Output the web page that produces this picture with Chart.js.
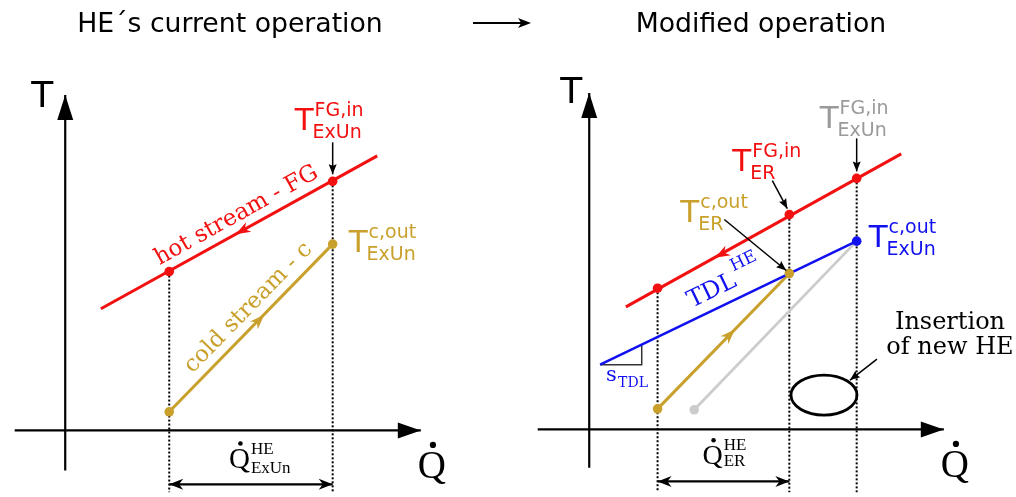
<!DOCTYPE html>
<html>
<head>
<meta charset="utf-8">
<script src="https://cdn.jsdelivr.net/npm/chart.js@4/dist/chart.umd.min.js"></script>
<style>
  html, body { margin: 0; padding: 0; background: #ffffff; }
  canvas { display: block; }
</style>
</head>
<body>
<canvas id="c" width="1016" height="497"></canvas>
<script>
// ---------- T–Q diagram values (arbitrary heat / temperature units) ----------
// Current operation of the heat exchanger
const curAxisQ = [-5.1, 35.9];
const curAxisT = [-4.1, 34.2];
const curHotQ = [3.6, 31.5];
const curHotT = [12.4, 28.0];
const curHotDotQ = [10.5, 27.0];
const curHotDotT = [16.2, 25.4];
const curColdQ = [10.5, 27.0];
const curColdT = [1.9, 19.0];
const curHotArrow = [17.2, 20.0];
const curColdArrow = [20.1, 11.8];
const curSpanT = -5.5;

// Modified operation
const modAxisQ = [-5.2, 35.8];
const modAxisT = [-3.9, 34.3];
const modHotQ = [3.7, 31.5];
const modHotT = [12.5, 28.1];
const modHotDotQ = [6.9, 20.2, 27.0];
const modHotDotT = [14.4, 21.9, 25.6];
const modColdQ = [6.9, 20.2];
const modColdT = [2.1, 15.9];
const oldColdQ = [10.6, 27.0];
const oldColdT = [2.0, 19.2];
const tdlQ = [1.1, 27.0];
const tdlT = [6.6, 19.2];
const slopeQ = [1.1, 5.3, 5.3];
const slopeT = [6.6, 6.6, 8.6];
const newHeCenter = [23.7, 3.5];
const modHotArrow = [12.7, 17.5];
const modColdArrow = [14.7, 10.2];
const modSpanT = -5.3;

// text
const titles = ['HE\u00B4s current operation', 'Modified operation'];
const streamLabels = ['hot stream - FG', 'cold stream - c'];
const streamLabelPos = [[17.3, 21.9], [18.5, 12.5]];
const tdlLabelPos = [12.4, 14.1];
const insertionText = ['Insertion', 'of new HE'];

// ---------- colours ----------
const RED = '#f21010';
const GOLD = '#c9a02b';
const BLUE = '#1010f0';
const GRAY_LINE = '#cccccc';
const GRAY_TEXT = '#9a9a9a';
const BLACK = '#000000';

const SANS = '"DejaVu Sans", sans-serif';
const SERIF = '"DejaVu Serif", serif';
const TIMES = '"Liberation Serif", serif';

const pts = (qs, ts) => qs.map((q, i) => ({ x: q, y: ts[i] }));

function line(data, color, width, side, extra) {
  return Object.assign({
    data, showLine: true, borderColor: color, borderWidth: width,
    pointRadius: 0, pointHoverRadius: 0, fill: false, tension: 0,
    xAxisID: side === 'L' ? 'xL' : 'xR', yAxisID: side === 'L' ? 'yL' : 'yR',
    order: 5, clip: false
  }, extra || {});
}
function dots(data, color, side) {
  return {
    data, showLine: false, pointRadius: 4.8, pointHoverRadius: 4.8,
    backgroundColor: color, borderWidth: 0,
    xAxisID: side === 'L' ? 'xL' : 'xR', yAxisID: side === 'L' ? 'yL' : 'yR',
    order: 1, clip: false
  };
}
const X_L = { min: -6.1, max: 95.5 };
const X_R = { min: -59.0, max: 42.6 };
const Y_L = { min: -6.3, max: 43.4 };
const Y_R = { min: -6.4, max: 43.3 };

function guides(qs, ts, side, bottom) {
  return qs.map((q, i) => line([{ x: q, y: ts[i] }, { x: q, y: bottom }], BLACK, 2, side,
    { borderDash: [2, 2], order: 9 }));
}

const datasets = [
  // axes
  line(pts(curAxisQ, [0, 0]), BLACK, 2.2, 'L', { order: 8 }),
  line(pts([0, 0], curAxisT), BLACK, 2.2, 'L', { order: 8 }),
  line(pts(modAxisQ, [0, 0]), BLACK, 2.2, 'R', { order: 8 }),
  line(pts([0, 0], modAxisT), BLACK, 2.2, 'R', { order: 8 }),
  // dotted guides
  ...guides(curHotDotQ, curHotDotT, 'L', Y_L.min),
  ...guides(modHotDotQ, modHotDotT, 'R', Y_R.min),
  // heat-duty spans
  line(pts(curColdQ, [curSpanT, curSpanT]), BLACK, 2.2, 'L', { order: 7 }),
  line(pts(modColdQ, [modSpanT, modSpanT]), BLACK, 2.2, 'R', { order: 7 }),
  // current operation
  line(pts(curHotQ, curHotT), RED, 3, 'L'),
  dots(pts(curHotDotQ, curHotDotT), RED, 'L'),
  line(pts(curColdQ, curColdT), GOLD, 3, 'L'),
  dots(pts(curColdQ, curColdT), GOLD, 'L'),
  // modified operation
  line(pts(oldColdQ, oldColdT), GRAY_LINE, 2.8, 'R', { order: 7 }),
  dots(pts([oldColdQ[0]], [oldColdT[0]]), GRAY_LINE, 'R'),
  line(pts(slopeQ, slopeT), '#333333', 1.5, 'R', { order: 6 }),
  line(pts(tdlQ, tdlT), BLUE, 2.5, 'R'),
  dots(pts([tdlQ[1]], [tdlT[1]]), BLUE, 'R'),
  line(pts(modHotQ, modHotT), RED, 3, 'R'),
  dots(pts(modHotDotQ, modHotDotT), RED, 'R'),
  line(pts(modColdQ, modColdT), GOLD, 3, 'R'),
  dots(pts(modColdQ, modColdT), GOLD, 'R')
];

// ---------- drawing helpers ----------
function head(ctx, tip, from, len, half, color, notch) {
  const a = Math.atan2(tip[1] - from[1], tip[0] - from[0]);
  const c = Math.cos(a), s = Math.sin(a);
  const bx = tip[0] - len * c, by = tip[1] - len * s;
  const nx = tip[0] - len * (1 - notch) * c, ny = tip[1] - len * (1 - notch) * s;
  ctx.beginPath();
  ctx.moveTo(tip[0], tip[1]);
  ctx.lineTo(bx - half * s, by + half * c);
  ctx.lineTo(nx, ny);
  ctx.lineTo(bx + half * s, by - half * c);
  ctx.closePath();
  ctx.fillStyle = color;
  ctx.fill();
}
function pointer(ctx, from, to, color) {
  ctx.beginPath();
  ctx.moveTo(from[0], from[1]);
  ctx.lineTo(to[0], to[1]);
  ctx.strokeStyle = color;
  ctx.lineWidth = 1.5;
  ctx.stroke();
  head(ctx, to, from, 10, 4, color, 0.15);
}
function sym(ctx, x, y, main, sup, sub, color) {
  ctx.fillStyle = color;
  ctx.textAlign = 'left';
  ctx.textBaseline = 'alphabetic';
  ctx.font = '31px ' + SANS;
  ctx.fillText(main, x, y);
  const w = ctx.measureText(main).width;
  ctx.font = '19px ' + SANS;
  ctx.fillText(sup, x + w + 1, y - 14);
  ctx.fillText(sub, x + w - 1, y + 8);
}
function qdot(ctx, x, y, sup, sub, size, small, supDy, subDy) {
  ctx.fillStyle = BLACK;
  ctx.textAlign = 'left';
  ctx.textBaseline = 'alphabetic';
  ctx.font = size + 'px ' + TIMES;
  ctx.fillText('Q', x, y);
  const w = ctx.measureText('Q').width;
  ctx.beginPath();
  ctx.arc(x + w / 2 + 1, y - size * 0.86, size * 0.08, 0, Math.PI * 2);
  ctx.fill();
  if (sup) {
    ctx.font = small + 'px ' + TIMES;
    ctx.fillText(sup, x + w + 1, y + supDy);
    ctx.fillText(sub, x + w + 1, y + subDy);
  }
}
function rotText(ctx, text, pos, a, font, color) {
  ctx.save();
  ctx.translate(pos[0], pos[1]);
  ctx.rotate(a);
  ctx.font = font;
  ctx.fillStyle = color;
  ctx.textAlign = 'center';
  ctx.textBaseline = 'middle';
  ctx.fillText(text, 0, 0);
  ctx.restore();
}

const decor = {
  id: 'decor',
  afterDatasetsDraw(chart) {
    const { ctx, scales } = chart;
    const L = (q, t) => [scales.xL.getPixelForValue(q), scales.yL.getPixelForValue(t)];
    const R = (q, t) => [scales.xR.getPixelForValue(q), scales.yR.getPixelForValue(t)];
    const ang = (a, b) => Math.atan2(b[1] - a[1], b[0] - a[0]);
    ctx.save();

    // titles and transition arrow
    ctx.fillStyle = BLACK;
    ctx.font = '26.7px ' + SANS;
    ctx.textAlign = 'center';
    ctx.textBaseline = 'alphabetic';
    ctx.fillText(titles[0], 230, 32);
    ctx.fillText(titles[1], 761, 32);
    ctx.beginPath();
    ctx.moveTo(473, 23); ctx.lineTo(522, 23);
    ctx.strokeStyle = BLACK; ctx.lineWidth = 2.2; ctx.stroke();
    head(ctx, [531, 23], [473, 23], 13, 5, BLACK, 0.25);

    // axis arrow heads and axis symbols
    const axes = [
      [L, curAxisQ, curAxisT, -34, 12],
      [R, modAxisQ, modAxisT, -29, 10]
    ];
    axes.forEach(([P, aq, at, tdx, tdy]) => {
      const yTip = P(0, at[1]), xTip = P(aq[1], 0);
      head(ctx, yTip, P(0, at[0]), 25, 8, BLACK, 0);
      head(ctx, xTip, P(aq[0], 0), 23, 8, BLACK, 0);
      ctx.fillStyle = BLACK;
      ctx.font = '36px ' + SANS;
      ctx.textAlign = 'left';
      ctx.fillText('T', yTip[0] + tdx, yTip[1] + tdy);
      qdot(ctx, xTip[0] - 3, xTip[1] + 48, null, null, 39);
    });

    // flow-direction arrows on the streams
    head(ctx, L(...curHotArrow), L(curHotQ[1], curHotT[1]), 15, 5.5, RED, 0.3);
    head(ctx, L(...curColdArrow), L(curColdQ[0], curColdT[0]), 15, 5.5, GOLD, 0.3);
    head(ctx, R(...modHotArrow), R(modHotQ[1], modHotT[1]), 15, 5.5, RED, 0.3);
    head(ctx, R(...modColdArrow), R(modColdQ[0], modColdT[0]), 15, 5.5, GOLD, 0.3);

    // heat-duty span arrow heads
    const sl = [L(curColdQ[0], curSpanT), L(curColdQ[1], curSpanT)];
    head(ctx, sl[0], sl[1], 14, 5.5, BLACK, 0.3);
    head(ctx, sl[1], sl[0], 14, 5.5, BLACK, 0.3);
    const sr = [R(modColdQ[0], modSpanT), R(modColdQ[1], modSpanT)];
    head(ctx, sr[0], sr[1], 14, 5.5, BLACK, 0.3);
    head(ctx, sr[1], sr[0], 14, 5.5, BLACK, 0.3);
    qdot(ctx, (sl[0][0] + sl[1][0]) / 2 - 22, L(0, 0)[1] + 38, 'HE', 'ExUn', 29, 17, -14, 5);
    qdot(ctx, (sr[0][0] + sr[1][0]) / 2 - 21, R(0, 0)[1] + 35, 'HE', 'ER', 28, 17, -14, 2);

    // stream names along the lines
    const aHot = ang(L(curHotQ[0], curHotT[0]), L(curHotQ[1], curHotT[1]));
    const aCold = ang(L(curColdQ[0], curColdT[0]), L(curColdQ[1], curColdT[1]));
    rotText(ctx, streamLabels[0], L(...streamLabelPos[0]), aHot, '23px ' + SERIF, RED);
    rotText(ctx, streamLabels[1], L(...streamLabelPos[1]), aCold, '23px ' + SERIF, GOLD);

    // TDL label with superscript
    const aTdl = ang(R(tdlQ[0], tdlT[0]), R(tdlQ[1], tdlT[1]));
    const tp = R(...tdlLabelPos);
    ctx.save();
    ctx.translate(tp[0], tp[1]);
    ctx.rotate(aTdl);
    ctx.font = '24px ' + SERIF;
    ctx.fillStyle = BLUE;
    ctx.textAlign = 'center';
    ctx.textBaseline = 'middle';
    ctx.fillText('TDL', 0, 0);
    const tw = ctx.measureText('TDL').width;
    ctx.font = '17px ' + SERIF;
    ctx.textAlign = 'left';
    ctx.fillText('HE', tw / 2 + 2, -13);
    ctx.restore();

    // slope label
    const s0 = R(slopeQ[0], slopeT[0]);
    ctx.fillStyle = BLUE;
    ctx.textAlign = 'left';
    ctx.textBaseline = 'alphabetic';
    ctx.font = '21px ' + SERIF;
    ctx.fillText('s', s0[0] + 6, s0[1] + 16);
    ctx.font = '14px ' + SERIF;
    ctx.fillText('TDL', s0[0] + 18, s0[1] + 22);

    // temperature labels with pointers
    const d1 = L(curHotDotQ[1], curHotDotT[1]);
    sym(ctx, d1[0] - 38, d1[1] - 51, 'T', 'FG,in', 'ExUn', RED);
    pointer(ctx, [d1[0], d1[1] - 39], [d1[0], d1[1] - 7], BLACK);
    const d2 = L(curColdQ[1], curColdT[1]);
    sym(ctx, d2[0] + 16, d2[1] + 8, 'T', 'c,out', 'ExUn', GOLD);

    const r3 = R(modHotDotQ[2], modHotDotT[2]);
    sym(ctx, r3[0] - 37, r3[1] - 50, 'T', 'FG,in', 'ExUn', GRAY_TEXT);
    pointer(ctx, [r3[0], r3[1] - 40], [r3[0], r3[1] - 7], BLACK);
    const r2 = R(modHotDotQ[1], modHotDotT[1]);
    sym(ctx, r2[0] - 57, r2[1] - 44, 'T', 'FG,in', 'ER', RED);
    pointer(ctx, [r2[0] - 17, r2[1] - 34], [r2[0] - 2, r2[1] - 6], BLACK);
    const rc = R(modColdQ[1], modColdT[1]);
    sym(ctx, rc[0] - 109, rc[1] - 52, 'T', 'c,out', 'ER', GOLD);
    pointer(ctx, [rc[0] - 65, rc[1] - 54], [rc[0] - 3, rc[1] - 3], BLACK);
    const rb = R(tdlQ[1], tdlT[1]);
    sym(ctx, rb[0] + 12, rb[1] + 6, 'T', 'c,out', 'ExUn', BLUE);

    // new heat exchanger
    const e = R(...newHeCenter);
    ctx.beginPath();
    ctx.ellipse(e[0], e[1], 33, 20, 0, 0, Math.PI * 2);
    ctx.strokeStyle = BLACK; ctx.lineWidth = 2.8; ctx.stroke();
    pointer(ctx, [e[0] + 53, e[1] - 36], [e[0] + 26, e[1] - 15], BLACK);
    ctx.fillStyle = BLACK;
    ctx.font = '24px ' + SERIF;
    ctx.textAlign = 'center';
    ctx.textBaseline = 'alphabetic';
    ctx.fillText(insertionText[0], e[0] + 126, e[1] - 66);
    ctx.fillText(insertionText[1], e[0] + 126, e[1] - 41);

    ctx.restore();
  }
};

new Chart(document.getElementById('c'), {
  type: 'scatter',
  data: { datasets },
  options: {
    responsive: false,
    devicePixelRatio: 1,
    animation: false,
    layout: { padding: 0 },
    plugins: { legend: { display: false }, tooltip: { enabled: false }, title: { display: false } },
    events: [],
    scales: {
      xL: { type: 'linear', position: 'bottom', display: false, min: X_L.min, max: X_L.max },
      xR: { type: 'linear', position: 'bottom', display: false, min: X_R.min, max: X_R.max },
      yL: { type: 'linear', position: 'left', display: false, min: Y_L.min, max: Y_L.max },
      yR: { type: 'linear', position: 'left', display: false, min: Y_R.min, max: Y_R.max }
    }
  },
  plugins: [decor]
});
</script>
</body>
</html>
